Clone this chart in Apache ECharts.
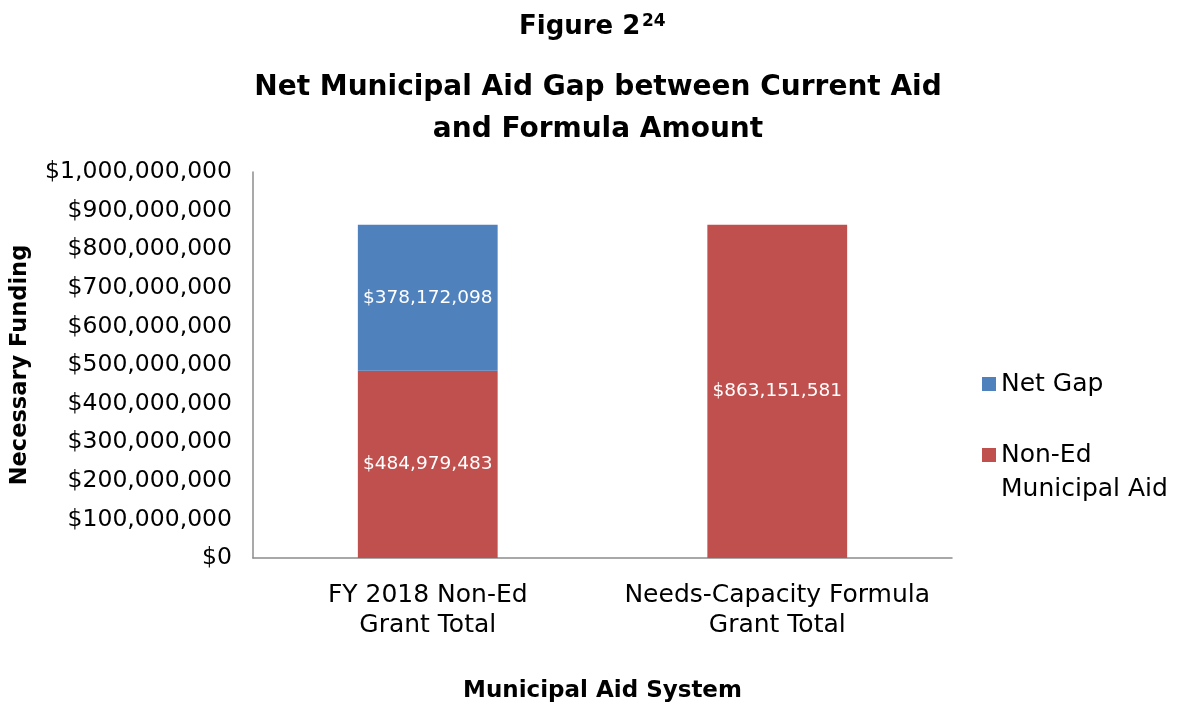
<!DOCTYPE html>
<html>
<head>
<meta charset="utf-8">
<script src="https://cdn.jsdelivr.net/npm/echarts@6/dist/echarts.min.js"></script>
<style>html,body{margin:0;padding:0;background:#fff}#c{width:1180px;height:708px}</style>
</head>
<body>
<div id="c"></div>
<script>
const categories = ['FY 2018 Non-Ed\nGrant Total', 'Needs-Capacity Formula\nGrant Total'];
const nonEdAid = [484979483, 863151581];
const netGap = [378172098, null];
const seriesNames = ['Net Gap', 'Non-Ed Municipal Aid'];
const yTicks = { min: 0, max: 1000000000, interval: 100000000 };

const FONT = 'DejaVu Sans';
const money = v => '$' + Math.round(v).toLocaleString('en-US');

const chart = echarts.init(document.getElementById('c'));
chart.setOption({
  backgroundColor: '#fff',
  animation: false,
  textStyle: { fontFamily: FONT },
  title: [
    { text: 'Figure 2', left: 514, top: 9, textStyle: { fontFamily: FONT, fontWeight: 'bold', fontSize: 26, color: '#000' } },
    { text: '24', left: 637, top: 8, textStyle: { fontFamily: FONT, fontWeight: 'bold', fontSize: 17, color: '#000' } },
    { text: 'Net Municipal Aid Gap between Current Aid\nand Formula Amount', left: 593, top: 62, textAlign: 'center',
      textStyle: { fontFamily: FONT, fontWeight: 'bold', fontSize: 28, lineHeight: 42, color: '#000', align: 'center' } }
  ],
  legend: [
    { data: [seriesNames[0]], orient: 'vertical', left: 977, top: 362, itemWidth: 14, itemHeight: 14,
      icon: 'rect', textStyle: { fontFamily: FONT, fontSize: 25, lineHeight: 34, color: '#000' } },
    { data: [seriesNames[1]], orient: 'vertical', left: 977, top: 399, itemWidth: 14, itemHeight: 14,
      icon: 'rect', formatter: () => ' \nNon-Ed\nMunicipal Aid',
      textStyle: { fontFamily: FONT, fontSize: 25, lineHeight: 34, color: '#000' } }
  ],
  grid: { left: 253, right: 228, top: 172, bottom: 148, containLabel: false },
  xAxis: {
    type: 'category', data: categories,
    name: 'Municipal Aid System', nameLocation: 'middle', nameGap: 122,
    nameTextStyle: { fontFamily: FONT, fontWeight: 'bold', fontSize: 23, color: '#000' },
    axisLine: { lineStyle: { color: '#8c8c8c', width: 1.5 } },
    axisTick: { show: false },
    axisLabel: { interval: 0, hideOverlap: false, fontFamily: FONT, fontSize: 25, lineHeight: 30, color: '#000', margin: 22 }
  },
  yAxis: {
    type: 'value', min: yTicks.min, max: yTicks.max, interval: yTicks.interval,
    name: 'Necessary Funding', nameLocation: 'middle', nameGap: 221, nameRotate: 90,
    nameTextStyle: { fontFamily: FONT, fontWeight: 'bold', fontSize: 22.5, color: '#000' },
    axisLine: { show: true, lineStyle: { color: '#8c8c8c', width: 1.5 } },
    axisTick: { show: false },
    splitLine: { show: false },
    axisLabel: { fontFamily: FONT, fontSize: 23.5, color: '#000', margin: 21, formatter: money }
  },
  series: [
    { name: seriesNames[1], type: 'bar', stack: 'total', data: nonEdAid, barWidth: '40%',
      itemStyle: { color: '#C0504D' },
      label: { show: true, position: 'inside', color: '#fff', fontFamily: FONT, fontSize: 18.5, formatter: p => money(p.value) } },
    { name: seriesNames[0], type: 'bar', stack: 'total', data: netGap, barWidth: '40%',
      itemStyle: { color: '#4F81BD' },
      label: { show: true, position: 'inside', color: '#fff', fontFamily: FONT, fontSize: 18.5, formatter: p => money(p.value) } }
  ]
});
</script>
</body>
</html>
